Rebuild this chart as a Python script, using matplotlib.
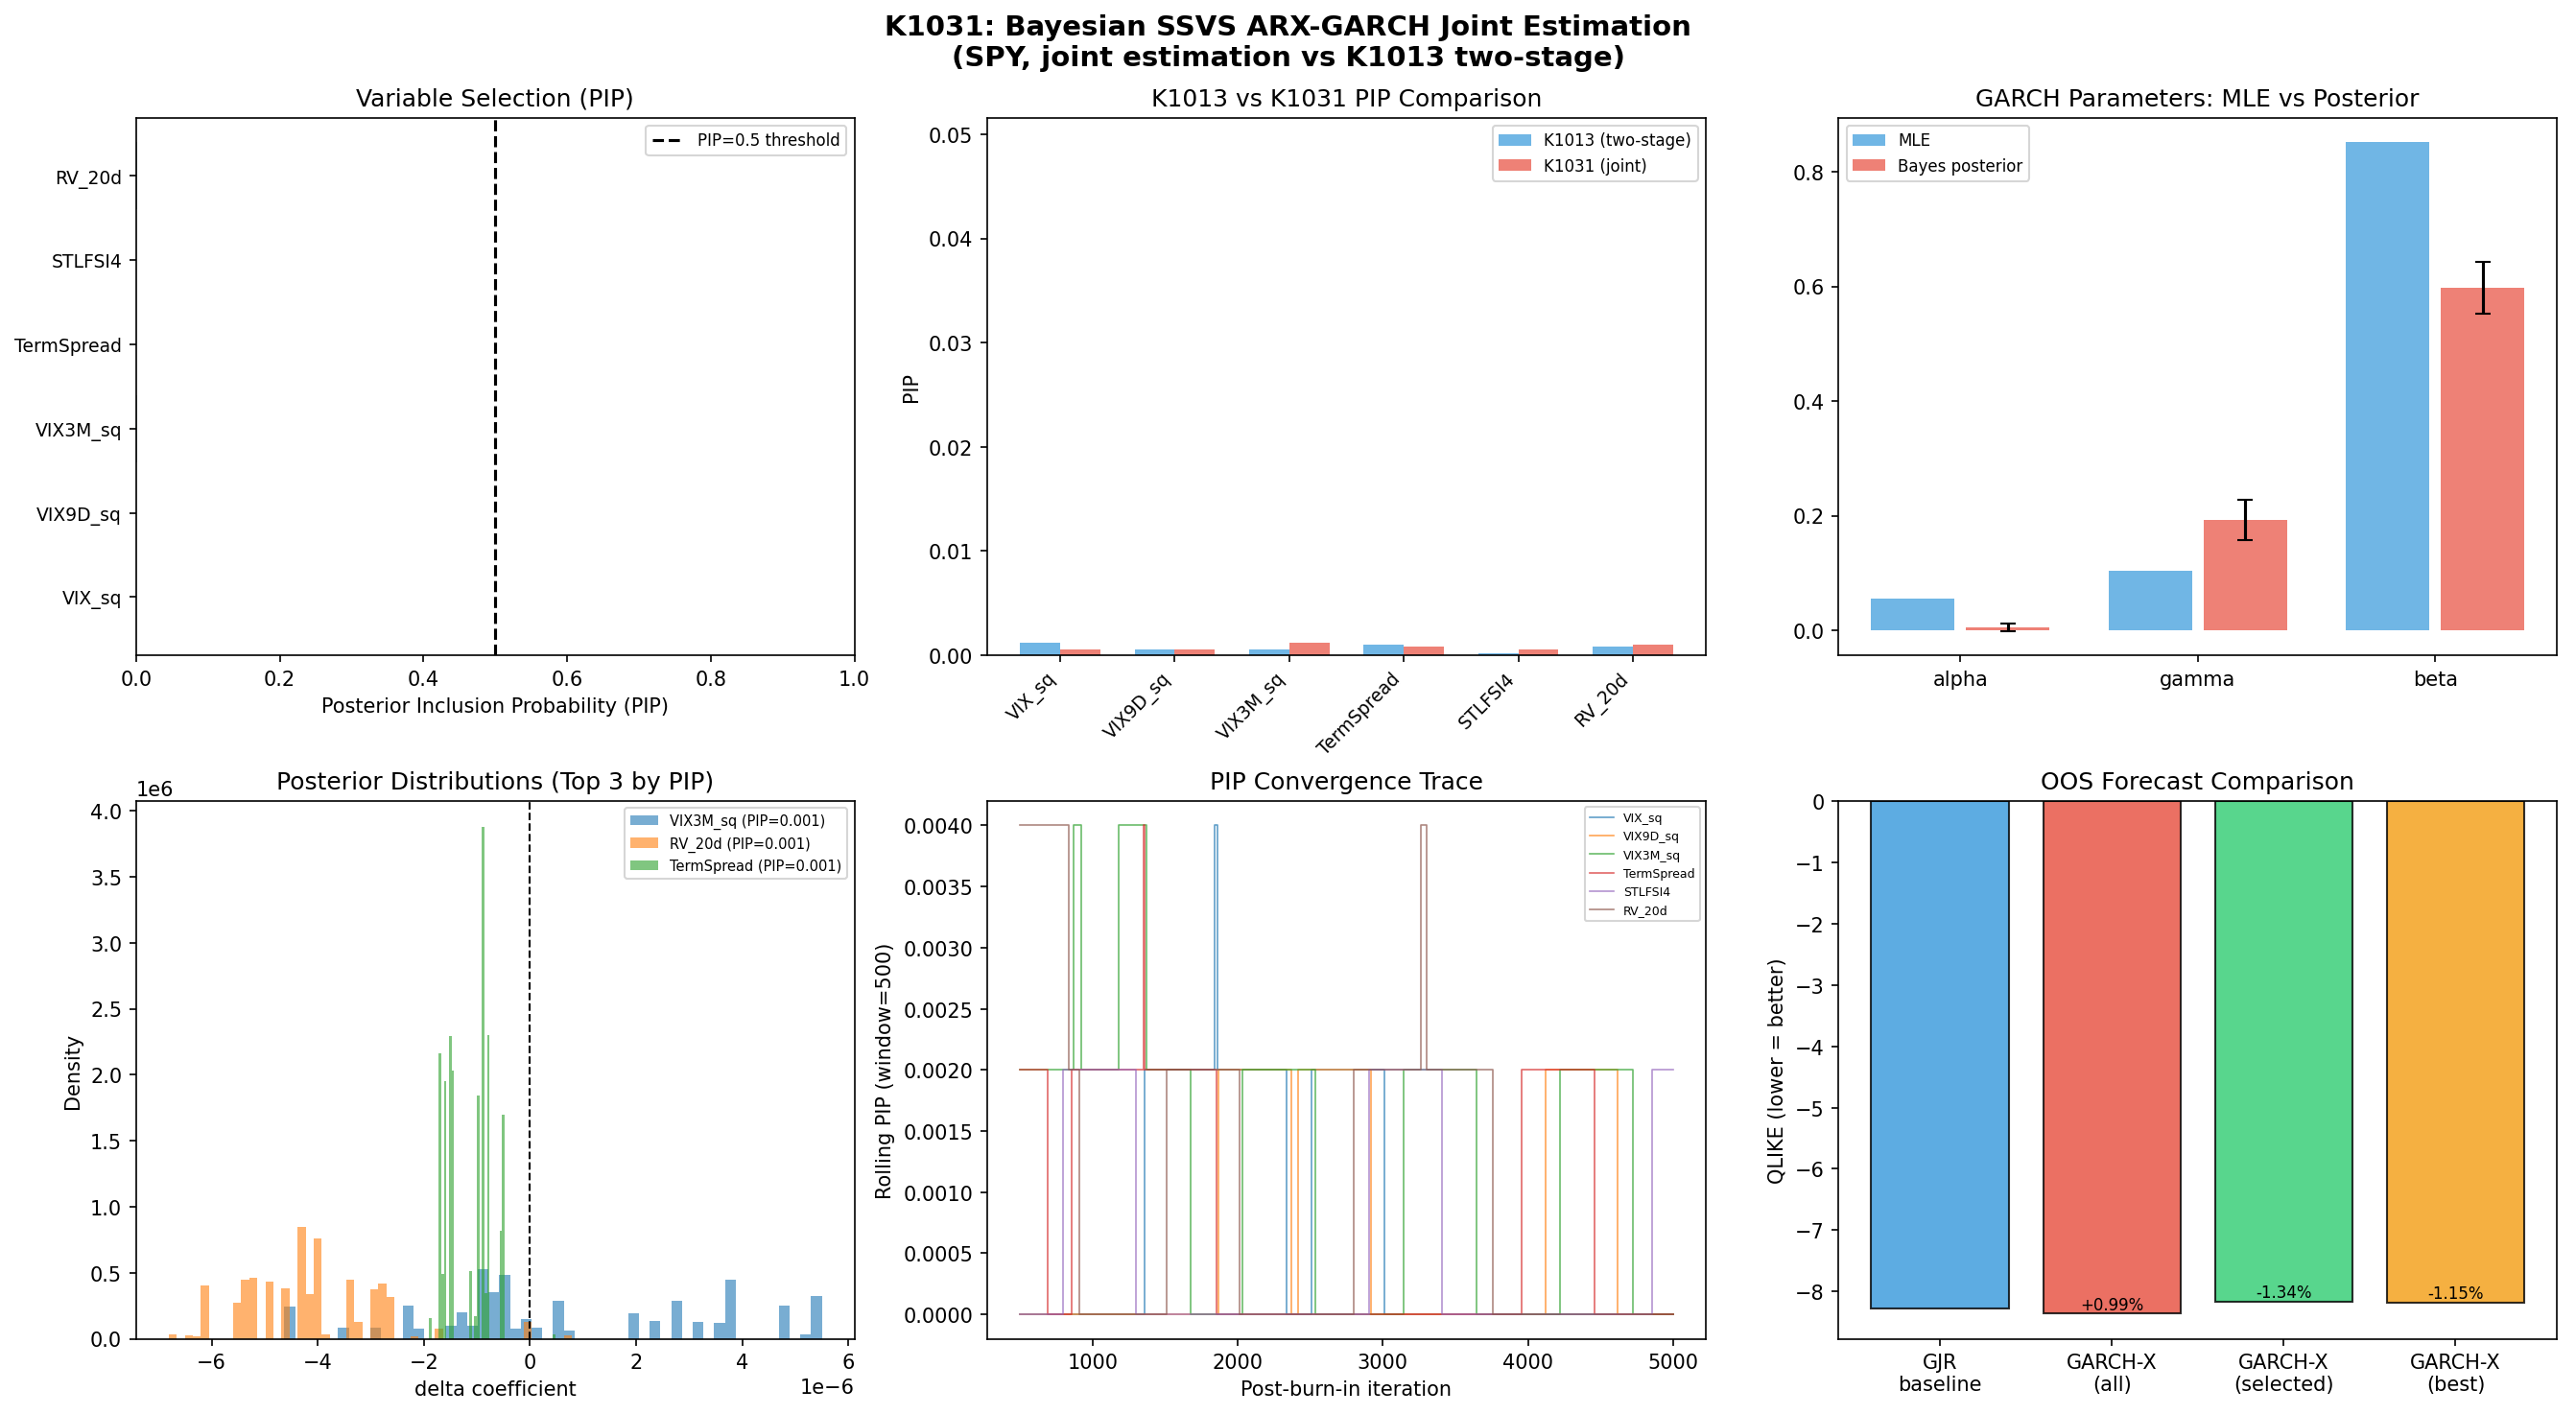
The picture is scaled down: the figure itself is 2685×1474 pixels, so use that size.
import numpy as np
import matplotlib
matplotlib.use("Agg")
import matplotlib.pyplot as plt

# ---- data ----
variables = ["VIX_sq", "VIX9D_sq", "VIX3M_sq", "TermSpread", "STLFSI4", "RV_20d"]
pip_k1013 = [0.0012, 0.0006, 0.0006, 0.0010, 0.00015, 0.0008]
pip_k1031 = [0.0006, 0.0006, 0.0012, 0.0008, 0.0006, 0.0010]

garch_params = ["alpha", "gamma", "beta"]
garch_mle = [0.055, 0.104, 0.852]
garch_bayes = [0.005, 0.193, 0.597]
garch_bayes_sd = [0.006, 0.035, 0.045]

oos_models = ["GJR\nbaseline", "GARCH-X\n(all)", "GARCH-X\n(selected)", "GARCH-X\n(best)"]
oos_qlike = [-8.270, -8.352, -8.159, -8.175]
oos_labels = ["", "+0.99%", "-1.34%", "-1.15%"]
oos_colors = ["#3498db", "#e74c3c", "#2ecc71", "#f39c12"]

# posterior histograms (50 bins each, density, units of 1e-6)
hist_names = ["VIX3M_sq (PIP=0.001)", "RV_20d (PIP=0.001)", "TermSpread (PIP=0.001)"]
hist_lo = [-4.63, -6.81, -1.907]
hist_hi = [5.50, 0.79, 0.477]
hist_bins = [
    {0: 0.245, 5: 0.084, 8: 0.084, 11: 0.25, 12: 0.08, 15: 0.10, 16: 0.20, 17: 0.10,
     18: 0.53, 19: 0.35, 20: 0.48, 21: 0.08, 22: 0.15, 23: 0.085, 25: 0.29, 26: 0.06,
     32: 0.19, 34: 0.135, 36: 0.29, 38: 0.13, 40: 0.12, 41: 0.45, 46: 0.25, 48: 0.035,
     49: 0.325},
    {0: 0.032, 2: 0.026, 3: 0.02, 4: 0.40, 8: 0.27, 9: 0.45, 10: 0.46, 12: 0.43,
     14: 0.38, 16: 0.85, 17: 0.34, 18: 0.76, 19: 0.032, 22: 0.45, 23: 0.13, 25: 0.375,
     26: 0.415, 27: 0.315, 30: 0.016, 33: 0.074, 44: 0.13, 49: 0.026},
    {0: 0.16, 4: 2.16, 5: 0.49, 6: 1.95, 8: 2.29, 9: 2.03, 16: 0.51, 18: 0.17,
     19: 1.84, 21: 3.88, 22: 0.345, 23: 2.30, 28: 0.82, 29: 1.70, 49: 0.03},
]

# rolling PIP trace: (iteration, value) change points, held until next point
trace_steps = {
    "VIX_sq": [(500, 0), (1362, 0.002), (1840, 0.004), (1862, 0.002), (2340, 0),
               (2510, 0.002), (3010, 0), (5000, 0)],
    "VIX9D_sq": [(500, 0), (1870, 0.002), (2368, 0), (2419, 0.002), (2919, 0),
                 (4120, 0.002), (4620, 0), (5000, 0)],
    "VIX3M_sq": [(500, 0.002), (871, 0.004), (921, 0.002), (1179, 0.004), (1371, 0.002),
                 (1679, 0), (2035, 0.002), (2535, 0), (3146, 0.002), (3646, 0),
                 (4223, 0.002), (4723, 0), (5000, 0)],
    "TermSpread": [(500, 0.002), (688, 0), (858, 0.002), (1350, 0.004), (1358, 0.002),
                   (1852, 0), (3957, 0.002), (4457, 0), (5000, 0)],
    "STLFSI4": [(500, 0), (796, 0.002), (1296, 0), (2905, 0.002), (3405, 0),
                (4856, 0.002), (5000, 0.002)],
    "RV_20d": [(500, 0.004), (834, 0.002), (911, 0), (1512, 0.002), (2012, 0),
               (2801, 0.002), (3260, 0.004), (3301, 0.002), (3760, 0), (5000, 0)],
}

fig, axes = plt.subplots(2, 3, figsize=(17.9, 9.833), dpi=150)
fig.subplots_adjust(left=0.0528, right=0.9926, top=0.9163, bottom=0.0532,
                    wspace=0.185, hspace=0.271)
fig.suptitle("K1031: Bayesian SSVS ARX-GARCH Joint Estimation\n"
             "(SPY, joint estimation vs K1013 two-stage)",
             fontsize=14, fontweight="bold", y=0.99)

# 1. variable selection
ax = axes[0, 0]
ypos = np.arange(len(variables))
ax.barh(ypos, pip_k1031, color=["#2ecc71" if p > 0.5 else "#95a5a6" for p in pip_k1031],
        alpha=0.8)
ax.axvline(0.5, color="black", ls="--", lw=1.5, label="PIP=0.5 threshold")
ax.set_yticks(ypos)
ax.set_yticklabels(variables, fontsize=9)
ax.set_xlim(0, 1)
ax.set_xlabel("Posterior Inclusion Probability (PIP)")
ax.set_title("Variable Selection (PIP)")
ax.legend(fontsize=8)

# 2. PIP comparison
ax = axes[0, 1]
x = np.arange(len(variables))
w = 0.35
ax.bar(x - w / 2, pip_k1013, w, color="#3498db", alpha=0.7, label="K1013 (two-stage)")
ax.bar(x + w / 2, pip_k1031, w, color="#e74c3c", alpha=0.7, label="K1031 (joint)")
ax.set_xticks(x)
ax.set_xticklabels(variables, rotation=45, ha="right", fontsize=9)
ax.set_ylim(0, 0.0516)
ax.set_ylabel("PIP")
ax.set_title("K1013 vs K1031 PIP Comparison")
ax.legend(fontsize=8)

# 3. GARCH params
ax = axes[0, 2]
x = np.arange(len(garch_params))
ax.bar(x - 0.2, garch_mle, 0.35, color="#3498db", alpha=0.7, label="MLE")
ax.bar(x + 0.2, garch_bayes, 0.35, yerr=garch_bayes_sd, capsize=4,
       color="#e74c3c", alpha=0.7, label="Bayes posterior")
ax.set_xticks(x)
ax.set_xticklabels(garch_params)
ax.set_title("GARCH Parameters: MLE vs Posterior")
ax.legend(fontsize=8)

# 4. posterior distributions
ax = axes[1, 0]
for k, name in enumerate(hist_names):
    edges = np.linspace(hist_lo[k], hist_hi[k], 51) * 1e-6
    heights = np.zeros(50)
    for i, h in hist_bins[k].items():
        heights[i] = h * 1e6
    centers = (edges[:-1] + edges[1:]) / 2
    ax.hist(centers, bins=edges, weights=heights, alpha=0.6, label=name)
ax.axvline(0, color="black", ls="--", lw=1)
ax.set_xlabel("delta coefficient")
ax.set_ylabel("Density")
ax.set_title("Posterior Distributions (Top 3 by PIP)")
ax.legend(fontsize=7)

# 5. PIP trace
ax = axes[1, 1]
for name in variables:
    pts = trace_steps[name]
    ax.step([p[0] for p in pts], [p[1] for p in pts], where="post",
            lw=0.8, alpha=0.7, label=name)
ax.set_xlabel("Post-burn-in iteration")
ax.set_ylabel("Rolling PIP (window=500)")
ax.set_title("PIP Convergence Trace")
ax.legend(fontsize=6, loc="upper right")

# 6. OOS comparison
ax = axes[1, 2]
x = np.arange(len(oos_models))
bars = ax.bar(x, oos_qlike, color=oos_colors, alpha=0.8, edgecolor="black")
for b, val, txt in zip(bars, oos_qlike, oos_labels):
    if txt:
        ax.text(b.get_x() + b.get_width() / 2, val, txt, ha="center", va="bottom",
                fontsize=8)
ax.set_xticks(x)
ax.set_xticklabels(oos_models)
ax.set_ylabel("QLIKE (lower = better)")
ax.set_title("OOS Forecast Comparison")

fig.savefig("out.png", dpi=150)
